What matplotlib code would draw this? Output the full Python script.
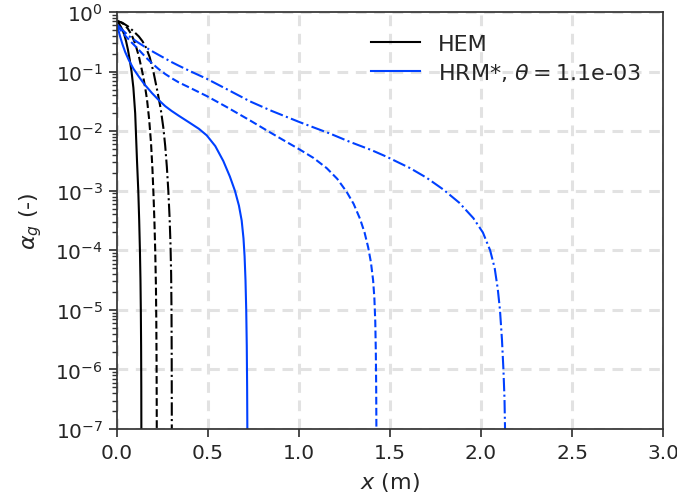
import matplotlib
matplotlib.use("Agg")
import matplotlib.pyplot as plt
import numpy as np

# ---- data (x in m, alpha_g given as log10 values) ----
hem_solid_x = [0.0, 0.01, 0.02, 0.03, 0.04, 0.05, 0.06, 0.07, 0.08, 0.09, 0.10, 0.105, 0.11,
               0.117, 0.122, 0.126, 0.129, 0.131, 0.1325, 0.1335, 0.134]
hem_solid_log10 = [-0.15, -0.19, -0.24, -0.30, -0.38, -0.49, -0.63, -0.80, -1.00, -1.27, -1.70,
                   -2.10, -2.50, -3.00, -3.50, -4.00, -4.50, -5.00, -5.60, -6.30, -7.20]

hem_dash_x = [0.0, 0.02, 0.04, 0.06, 0.08, 0.10, 0.12, 0.14, 0.155, 0.165, 0.177, 0.187, 0.195,
              0.201, 0.206, 0.210, 0.214, 0.216, 0.2175, 0.2183, 0.2187]
hem_dash_log10 = [-0.15, -0.17, -0.21, -0.28, -0.38, -0.53, -0.74, -1.02, -1.27, -1.47, -1.81,
                  -2.20, -2.65, -3.10, -3.55, -4.00, -4.60, -5.20, -5.90, -6.60, -7.20]

hem_dd_x = [0.0, 0.03, 0.06, 0.09, 0.12, 0.14, 0.16, 0.18, 0.20, 0.22, 0.24, 0.255, 0.265, 0.274,
            0.282, 0.289, 0.294, 0.2975, 0.2995, 0.3005, 0.301, 0.3012]
hem_dd_log10 = [-0.15, -0.18, -0.24, -0.32, -0.41, -0.49, -0.60, -0.76, -1.00, -1.30, -1.62, -1.95,
                -2.25, -2.60, -3.00, -3.45, -3.90, -4.40, -5.00, -5.70, -6.50, -7.20]

hrm_solid_x = [0.0, 0.01, 0.02, 0.03, 0.045, 0.064, 0.09, 0.119, 0.15, 0.192, 0.23, 0.265, 0.30,
               0.339, 0.40, 0.45, 0.493, 0.54, 0.584, 0.62, 0.648, 0.67, 0.685, 0.695, 0.701,
               0.706, 0.710, 0.713, 0.715, 0.7165]
hrm_solid_log10 = [-0.22, -0.33, -0.44, -0.54, -0.67, -0.80, -0.95, -1.08, -1.21, -1.36, -1.48,
                   -1.58, -1.66, -1.74, -1.86, -1.96, -2.07, -2.25, -2.50, -2.76, -3.00, -3.25,
                   -3.50, -3.80, -4.10, -4.50, -5.00, -5.60, -6.30, -7.20]

hrm_dash_x = [0.0, 0.02, 0.046, 0.08, 0.119, 0.155, 0.192, 0.23, 0.265, 0.30, 0.339, 0.40, 0.493,
              0.60, 0.731, 0.83, 0.914, 1.005, 1.08, 1.152, 1.21, 1.262, 1.30, 1.335, 1.36, 1.38,
              1.395, 1.407, 1.414, 1.419, 1.422, 1.424, 1.4255]
hrm_dash_log10 = [-0.22, -0.30, -0.40, -0.51, -0.63, -0.75, -0.86, -0.96, -1.04, -1.11, -1.18,
                  -1.27, -1.41, -1.59, -1.82, -2.00, -2.15, -2.31, -2.45, -2.62, -2.80, -3.02,
                  -3.22, -3.47, -3.70, -3.95, -4.20, -4.50, -4.80, -5.20, -5.70, -6.30, -7.20]

hrm_dd_x = [0.0, 0.02, 0.064, 0.11, 0.156, 0.20, 0.247, 0.30, 0.339, 0.40, 0.493, 0.60, 0.731,
            0.85, 1.005, 1.17, 1.28, 1.40, 1.482, 1.61, 1.70, 1.793, 1.88, 1.958, 2.01, 2.05,
            2.075, 2.092, 2.104, 2.115, 2.123, 2.129, 2.133]
hrm_dd_log10 = [-0.21, -0.27, -0.40, -0.50, -0.59, -0.67, -0.75, -0.84, -0.90, -0.99, -1.12,
                -1.29, -1.50, -1.66, -1.85, -2.04, -2.18, -2.32, -2.43, -2.62, -2.78, -2.98,
                -3.20, -3.46, -3.70, -4.00, -4.30, -4.65, -5.00, -5.50, -6.00, -6.50, -7.20]

legend_labels = ["HEM", r"HRM*, $\theta = $1.1e-03"]
xticks = [0.0, 0.5, 1.0, 1.5, 2.0, 2.5, 3.0]

BLUE = "#0040ff"
TXT = "#262626"

plt.rcParams["font.family"] = ["DejaVu Sans"]
plt.rcParams["mathtext.fontset"] = "dejavusans"

fig = plt.figure(figsize=(6.77, 5.02), dpi=100)
ax = fig.add_axes([0.1728, 0.1434, 0.8066, 0.8306])

lw = 1.5
series = [
    (hem_solid_x, hem_solid_log10, "black", "-", legend_labels[0]),
    (hem_dash_x, hem_dash_log10, "black", "--", None),
    (hem_dd_x, hem_dd_log10, "black", "-.", None),
    (hrm_solid_x, hrm_solid_log10, BLUE, "-", legend_labels[1]),
    (hrm_dash_x, hrm_dash_log10, BLUE, "--", None),
    (hrm_dd_x, hrm_dd_log10, BLUE, "-.", None),
]
for xs, ls10, col, ls, lab in series:
    ax.plot(xs, np.power(10.0, ls10), color=col, lw=lw, ls=ls, label=lab)

ax.set_yscale("log")
ax.set_xlim(0, 3.0)
ax.set_ylim(1e-7, 1)
ax.set_xticks(xticks)
ax.set_xticklabels([f"{t:.1f}" for t in xticks])

ax.grid(True, which="major", color="#e2e2e2", lw=2.2, ls=(0, (3.5, 2.5)))
ax.set_axisbelow(True)

for s in ax.spines.values():
    s.set_color("#333333")
    s.set_linewidth(1.25)

ax.tick_params(which="major", direction="out", length=6, width=1.25, color="#333333",
               labelsize=14.5, labelcolor=TXT, pad=4)
ax.tick_params(which="minor", direction="out", length=3.5, width=1.0, color="#333333")
ax.tick_params(axis="x", which="minor", bottom=False)

ax.set_xlabel(r"$x$ (m)", fontsize=16, color=TXT, labelpad=6)
ax.set_ylabel(r"$\alpha_g$ (-)", fontsize=16, color=TXT, labelpad=8)

leg = ax.legend(loc="upper right", frameon=False, fontsize=16, handlelength=2.2,
                handletextpad=0.8, borderaxespad=0.6, labelspacing=0.3)
for t in leg.get_texts():
    t.set_color(TXT)

fig.savefig("out.png", dpi=100)
